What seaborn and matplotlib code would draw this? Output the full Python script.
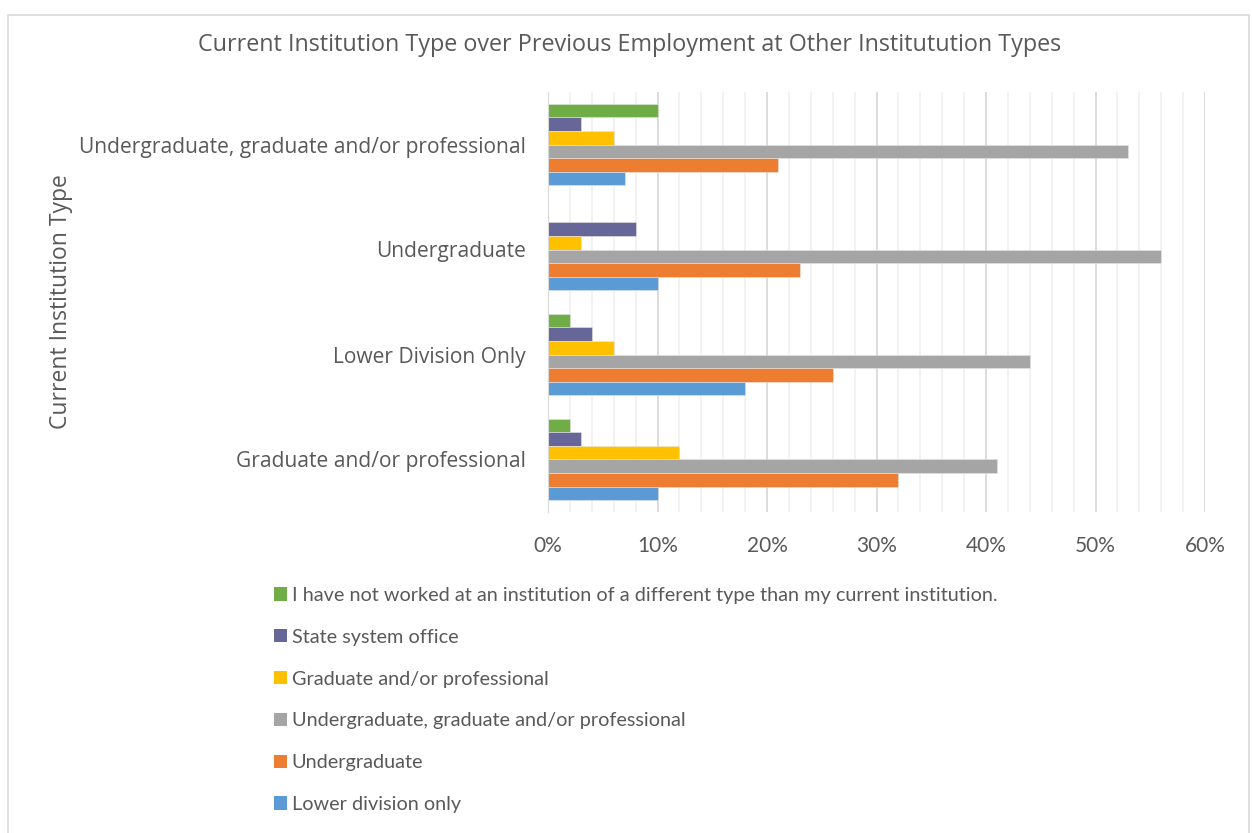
import pandas as pd
import seaborn as sns
import matplotlib.pyplot as plt
from matplotlib.patches import Rectangle, Patch
from matplotlib.ticker import MultipleLocator, PercentFormatter

# categories, top to bottom
institutions = ['Undergraduate, graduate and/or professional', 'Undergraduate',
                'Lower Division Only', 'Graduate and/or professional']

# series in legend order (top to bottom inside each group)
series = ['I have not worked at an institution of a different type than my current institution.',
          'State system office',
          'Graduate and/or professional',
          'Undergraduate, graduate and/or professional',
          'Undergraduate',
          'Lower division only']

not_worked = [10, 0, 2, 2]
state_office = [3, 8, 4, 3]
grad_prof = [6, 3, 6, 12]
ugrad_grad_prof = [53, 56, 44, 41]
ugrad = [21, 23, 26, 32]
lower_div = [7, 10, 18, 10]

colors = ['#70AD47', '#666699', '#FFC000', '#A5A5A5', '#ED7D31', '#5B9BD5']

values = [not_worked, state_office, grad_prof, ugrad_grad_prof, ugrad, lower_div]
rows = []
for name, vals in zip(series, values):
    for inst, v in zip(institutions, vals):
        rows.append({'inst': inst, 'series': name, 'pct': v / 100})
df = pd.DataFrame(rows)

sns.set_style('white')
plt.rcParams['font.family'] = ['Open Sans', 'DejaVu Sans']
txt = '#595959'

fig = plt.figure(figsize=(12.53, 8.33), dpi=100)
ax = fig.add_axes([548 / 1253, 1 - 512 / 833, 657 / 1253, 420 / 833])

sns.barplot(data=df, y='inst', x='pct', hue='series', order=institutions,
            hue_order=series, palette=colors, saturation=1, orient='h', width=0.78,
            edgecolor='#e6e6e6', linewidth=0.4, ax=ax, legend=False)

ax.set_xlim(0, 0.6)
ax.set_ylim(3.5, -0.5)
ax.xaxis.set_major_locator(MultipleLocator(0.1))
ax.xaxis.set_minor_locator(MultipleLocator(0.02))
ax.xaxis.set_major_formatter(PercentFormatter(1.0, decimals=0))
ax.grid(axis='x', which='major', color='#d9d9d9', linewidth=1.3, zorder=0)
ax.grid(axis='x', which='minor', color='#f0f0f0', linewidth=1.2, zorder=0)
ax.set_axisbelow(True)
for s in ['top', 'right', 'bottom']:
    ax.spines[s].set_visible(False)
ax.spines['left'].set_color('#d9d9d9')
ax.tick_params(axis='both', length=0, colors=txt)
ax.tick_params(axis='x', labelsize=15, pad=17)
ax.tick_params(axis='y', labelsize=15.1, pad=16)
for lbl in ax.get_xticklabels():
    lbl.set_family(['Lato', 'DejaVu Sans'])
ax.set_xlabel('')
ax.set_ylabel('Current Institution Type', fontsize=16.5, color=txt)
ax.yaxis.set_label_coords(-475 / 657, 0.5)

fig.text(630 / 1253, 1 - 45 / 833,
         'Current Institution Type over Previous Employment at Other Institutution Types',
         ha='center', va='center', fontsize=16.8, color=txt)

handles = [Patch(facecolor=c, edgecolor='none') for c in colors]
fig.legend(handles, series, loc='upper left', bbox_to_anchor=(264 / 1253, 1 - 577 / 833),
           frameon=False, handlelength=0.65, handleheight=0.65, handletextpad=0.25,
           labelspacing=1.25, borderpad=0, prop={'family': ['Lato', 'DejaVu Sans'], 'size': 14.3},
           labelcolor=txt)

fig.patches.append(Rectangle((8 / 1253, -0.02), 1241 / 1253, 1.02 - 15 / 833,
                             transform=fig.transFigure, fill=False,
                             edgecolor='#d9d9d9', linewidth=1.2))

fig.savefig('out.png', dpi=100)
